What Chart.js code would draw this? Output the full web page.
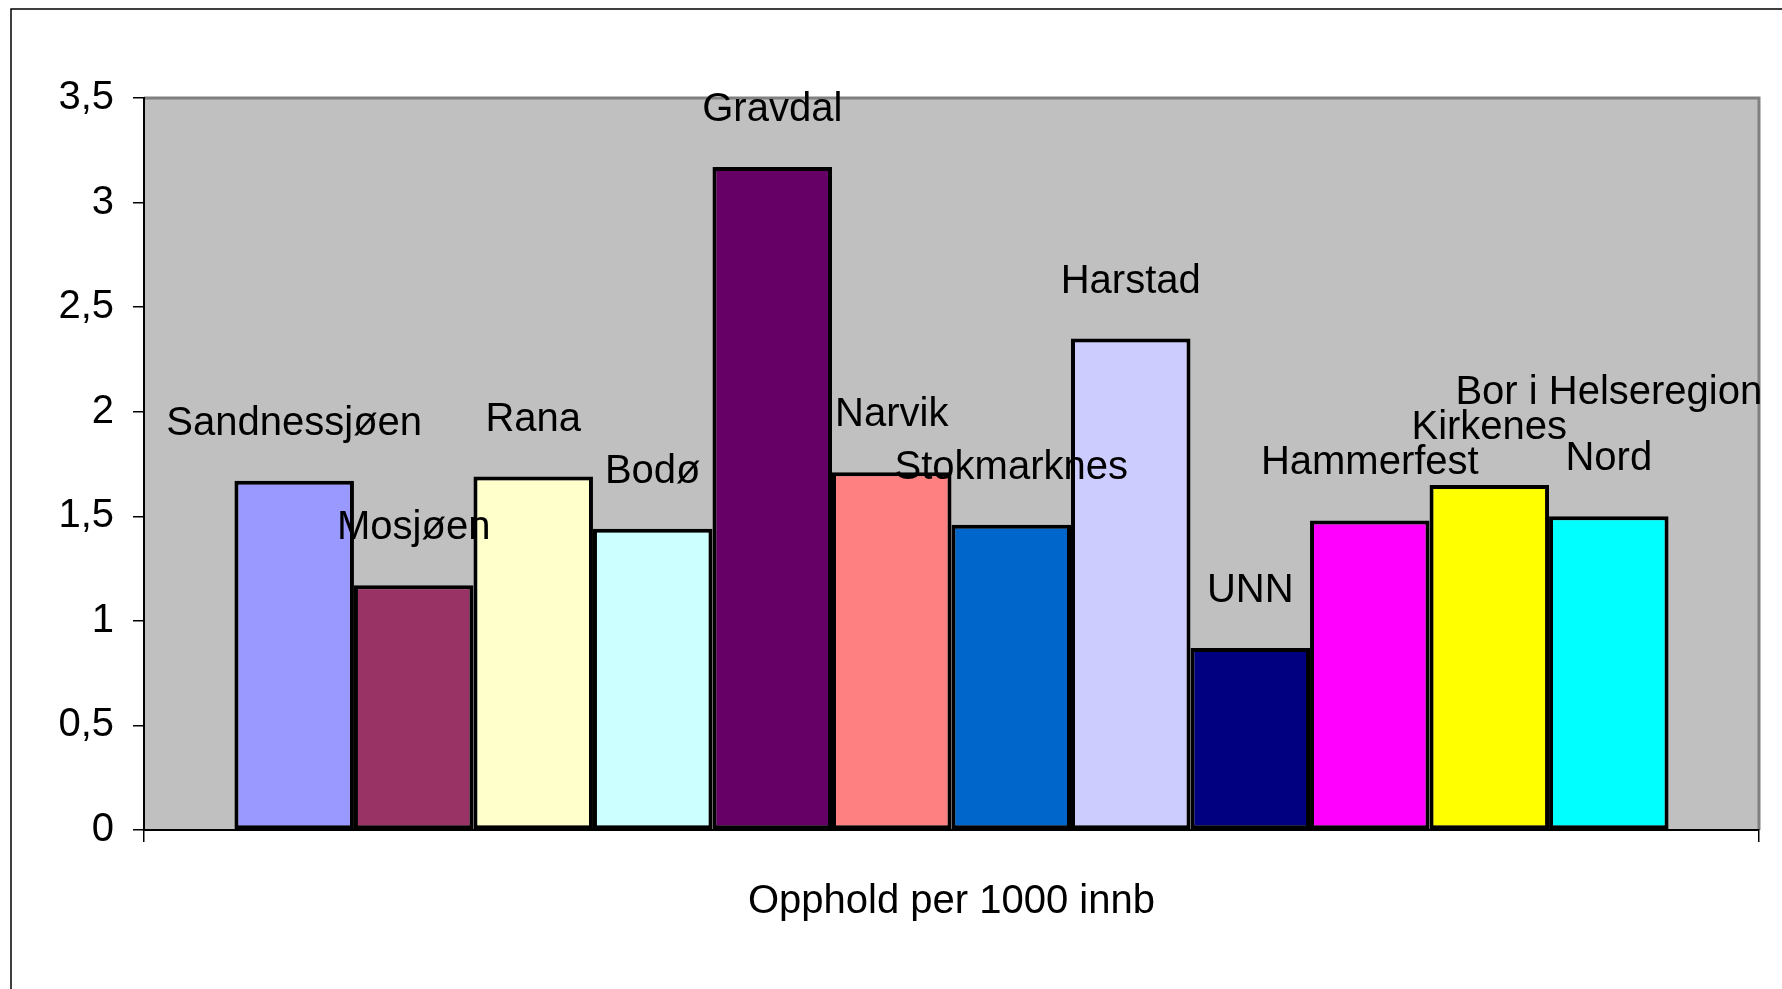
<!DOCTYPE html>
<html>
<head>
<meta charset="utf-8">
<script src="https://cdn.jsdelivr.net/npm/chart.js@4"></script>
<style>
  body { margin: 0; background: #fff; }
  canvas { display: block; }
</style>
</head>
<body>
<canvas id="chart" width="1782" height="989"></canvas>
<script>
// categories / series
var category = ['Opphold per 1000 innb'];
var sites = [
    ['Sandnessjøen'], ['Mosjøen'], ['Rana'], ['Bodø'], ['Gravdal'], ['Narvik'],
    ['Stokmarknes'], ['Harstad'], ['UNN'], ['Hammerfest'], ['Kirkenes'],
    ['Bor i Helseregion', 'Nord']
];
var values = [1.67, 1.17, 1.69, 1.44, 3.17, 1.71, 1.46, 2.35, 0.87, 1.48, 1.65, 1.50];
var colors = ['#9999FF', '#993366', '#FFFFCC', '#CCFFFF', '#660066', '#FF8080',
              '#0066CC', '#CCCCFF', '#000080', '#FF00FF', '#FFFF00', '#00FFFF'];
var yTicks = [0, 0.5, 1, 1.5, 2, 2.5, 3, 3.5];

var FONT = '"Liberation Sans", Arial, sans-serif';

var datasets = sites.map(function (lines, i) {
    return {
        label: lines.join(' '),
        lines: lines,
        data: [values[i]],
        backgroundColor: colors[i],
        borderColor: '#000',
        borderWidth: 4,
        borderSkipped: false
    };
});

// outer frame + grey plot area
var background = {
    id: 'background',
    beforeDraw: function (chart) {
        var ctx = chart.ctx, a = chart.chartArea;
        ctx.save();
        ctx.fillStyle = '#fff';
        ctx.fillRect(0, 0, chart.width, chart.height);
        ctx.strokeStyle = '#000';
        ctx.lineWidth = 1.5;
        ctx.beginPath();
        ctx.moveTo(11, chart.height);
        ctx.lineTo(11, 9);
        ctx.lineTo(chart.width, 9);
        ctx.stroke();
        ctx.fillStyle = '#C0C0C0';
        ctx.fillRect(a.left, a.top, a.right - a.left, a.bottom - a.top);
        ctx.strokeStyle = '#808080';
        ctx.lineWidth = 3;
        ctx.beginPath();
        ctx.moveTo(a.left, a.top);
        ctx.lineTo(a.right, a.top);
        ctx.lineTo(a.right, a.bottom);
        ctx.stroke();
        ctx.restore();
    }
};

// site names above each bar
var barLabels = {
    id: 'barLabels',
    afterDatasetsDraw: function (chart) {
        var ctx = chart.ctx;
        ctx.save();
        ctx.font = '40px ' + FONT;
        ctx.fillStyle = '#000';
        ctx.textAlign = 'center';
        ctx.textBaseline = 'middle';
        chart.data.datasets.forEach(function (ds, i) {
            var bar = chart.getDatasetMeta(i).data[0];
            var n = ds.lines.length;
            ds.lines.forEach(function (t, j) {
                ctx.fillText(t, bar.x, bar.y - 57 - (n - 1 - j) * 66);
            });
        });
        ctx.restore();
    }
};

new Chart(document.getElementById('chart'), {
    type: 'bar',
    data: { labels: category, datasets: datasets },
    options: {
        responsive: false,
        animation: false,
        layout: { padding: { top: 98, right: 23, left: 0, bottom: 0 } },
        datasets: { bar: { categoryPercentage: 0.888, barPercentage: 1 } },
        plugins: { legend: { display: false }, tooltip: { enabled: false } },
        scales: {
            x: {
                grid: { display: true, drawOnChartArea: false, offset: true, color: '#000', tickLength: 12, lineWidth: 1.5 },
                border: { display: true, color: '#000', width: 2 },
                ticks: { color: '#000', font: { family: FONT, size: 40 }, padding: 36, maxRotation: 0 },
                afterFit: function (s) { s.height = 159; }
            },
            y: {
                min: 0,
                max: 3.5,
                afterBuildTicks: function (s) { s.ticks = yTicks.map(function (v) { return { value: v }; }); },
                grid: { display: true, drawOnChartArea: false, color: '#000', tickLength: 11, lineWidth: 1.5 },
                border: { display: true, color: '#000', width: 2 },
                ticks: {
                    color: '#000',
                    font: { family: FONT, size: 40 },
                    padding: 19,
                    callback: function (v) { return String(v).replace('.', ','); }
                },
                afterFit: function (s) { s.width = 144; }
            }
        }
    },
    plugins: [background, barLabels]
});
</script>
</body>
</html>
